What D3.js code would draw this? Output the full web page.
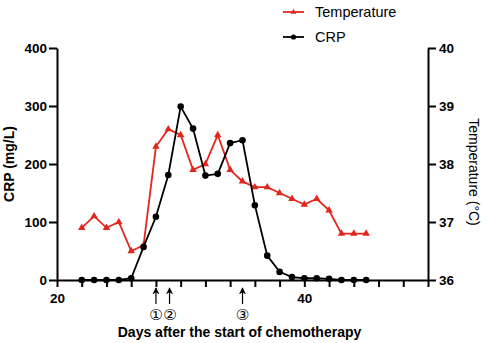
<!DOCTYPE html>
<html>
<head>
<meta charset="utf-8">
<script src="https://cdn.jsdelivr.net/npm/d3@7"></script>
<style>
  body { margin: 0; background: #fff; }
  svg { font-family: "Liberation Sans", Arial, sans-serif; }
  .axis path, .axis line { stroke: #000; stroke-width: 2; }
  .axis text { font-size: 13.5px; font-weight: bold; fill: #000; }
</style>
</head>
<body>
<div id="chart"></div>
<script>
// days after the start of chemotherapy
var days = [22, 23, 24, 25, 26, 27, 28, 29, 30, 31, 32, 33, 34, 35, 36, 37, 38, 39, 40, 41, 42, 43, 44, 45];
// CRP (mg/L)
var crp = [0, 0, 0, 0, 3, 57, 109, 181, 299, 261, 180, 183, 236, 241, 129, 42, 14, 5, 3, 3, 2, 0, 0, 0];
// temperature (°C)
var temperature = [36.9, 37.1, 36.9, 37.0, 36.5, 36.6, 38.3, 38.6, 38.5, 37.9, 38.0, 38.5, 37.9, 37.7, 37.6, 37.6, 37.5, 37.4, 37.3, 37.4, 37.2, 36.8, 36.8, 36.8];
var xTicks = [20, 22, 24, 26, 28, 30, 32, 34, 36, 38, 40, 42, 44, 46, 48, 50];
var xLabels = [20, 40];
var crpTicks = [0, 100, 200, 300, 400];
var tempTicks = [36, 37, 38, 39, 40];
var arrowDays = [28, 29.1, 35];
var arrowLabels = ["\u2460", "\u2461", "\u2462"];

var W = 486, H = 343;
var margin = { top: 48, right: 58, bottom: 63, left: 57 };
var width = W - margin.left - margin.right,
    height = H - margin.top - margin.bottom;
var red = "#e3261c";

var svg = d3.select("#chart").append("svg").attr("width", W).attr("height", H);
var g = svg.append("g").attr("transform", "translate(" + margin.left + "," + margin.top + ")");

var x = d3.scaleLinear().domain([20, 50]).range([0, width]);
var y0 = d3.scaleLinear().domain([0, 400]).range([height, 0]);
var y1 = d3.scaleLinear().domain([36, 40]).range([height, 0]);

// x axis, labels only at 20 and 40
var xAxis = g.append("g").attr("class", "axis").attr("transform", "translate(0," + height + ")")
  .call(d3.axisBottom(x).tickValues(xTicks).tickSize(7).tickSizeOuter(0)
    .tickFormat(function (d) { return xLabels.indexOf(d) >= 0 ? d : ""; }));
xAxis.selectAll("text").attr("dy", "0.95em");

var yAxisL = g.append("g").attr("class", "axis")
  .call(d3.axisLeft(y0).tickValues(crpTicks).tickSize(8).tickSizeOuter(0));
yAxisL.selectAll("text").attr("x", -10);

var yAxisR = g.append("g").attr("class", "axis").attr("transform", "translate(" + width + ",0)")
  .call(d3.axisRight(y1).tickValues(tempTicks).tickSize(8).tickSizeOuter(0).tickFormat(d3.format("d")));
yAxisR.selectAll("text").attr("x", 11);

var tempData = days.map(function (d, i) { return { day: d, v: temperature[i] }; });
var crpData = days.map(function (d, i) { return { day: d, v: crp[i] }; });

var tempLine = d3.line().x(function (d) { return x(d.day); }).y(function (d) { return y1(d.v); });
var crpLine = d3.line().x(function (d) { return x(d.day); }).y(function (d) { return y0(d.v); });

var tri = d3.symbol().type(d3.symbolTriangle).size(24);

g.append("path").datum(tempData).attr("d", tempLine)
  .attr("fill", "none").attr("stroke", red).attr("stroke-width", 1.8);
g.selectAll(".tri").data(tempData).enter().append("path")
  .attr("d", tri)
  .attr("transform", function (d) { return "translate(" + x(d.day) + "," + y1(d.v) + ")"; })
  .attr("fill", red);

g.append("path").datum(crpData).attr("d", crpLine)
  .attr("fill", "none").attr("stroke", "#000").attr("stroke-width", 1.8);
g.selectAll(".dot").data(crpData).enter().append("circle")
  .attr("cx", function (d) { return x(d.day); })
  .attr("cy", function (d) { return y0(d.v); })
  .attr("r", 3.3).attr("fill", "#000");

// arrows under the axis
svg.append("defs").append("marker").attr("id", "ah")
  .attr("viewBox", "0 0 10 10").attr("refX", 9).attr("refY", 5)
  .attr("markerWidth", 6).attr("markerHeight", 6).attr("orient", "auto")
  .append("path").attr("d", "M0,0 L10,5 L0,10 L3,5 Z").attr("fill", "#000");

arrowDays.forEach(function (d, i) {
  var ax = x(d);
  g.append("line").attr("x1", ax).attr("x2", ax)
    .attr("y1", height + 24).attr("y2", height + 8)
    .attr("stroke", "#000").attr("stroke-width", 1.2).attr("marker-end", "url(#ah)");
  g.append("text").attr("x", ax + (i == 1 ? 0.5 : 0)).attr("y", height + 40)
    .attr("text-anchor", "middle").style("font-size", "15px")
    .style("font-family", "'DejaVu Sans', sans-serif").text(arrowLabels[i]);
});

// axis titles
svg.append("text").attr("x", margin.left + width / 2 - 3).attr("y", 337)
  .attr("text-anchor", "middle").style("font-size", "14px").style("font-weight", "bold")
  .text("Days after the start of chemotherapy");
svg.append("text").attr("transform", "translate(14," + (margin.top + height / 2) + ") rotate(-90)")
  .attr("text-anchor", "middle").style("font-size", "14px").style("font-weight", "bold")
  .text("CRP (mg/L)");
svg.append("text").attr("transform", "translate(469," + (margin.top + height / 2 + 8) + ") rotate(90)")
  .attr("text-anchor", "middle").style("font-size", "14px")
  .text("Temperature (\u00b0C)");

// legend
var legend = svg.append("g").attr("transform", "translate(283,0)");
var items = [{ name: "Temperature", color: red, sym: "tri" }, { name: "CRP", color: "#000", sym: "dot" }];
items.forEach(function (it, i) {
  var ly = 12 + i * 25;
  legend.append("line").attr("x1", 0).attr("x2", 21).attr("y1", ly).attr("y2", ly)
    .attr("stroke", it.color).attr("stroke-width", 1.8);
  if (it.sym == "tri") {
    legend.append("path").attr("d", d3.symbol().type(d3.symbolTriangle).size(14))
      .attr("transform", "translate(10.5," + ly + ")").attr("fill", it.color);
  } else {
    legend.append("circle").attr("cx", 10.5).attr("cy", ly).attr("r", 2.6).attr("fill", it.color);
  }
  legend.append("text").attr("x", 32).attr("y", ly + 5).style("font-size", "14.5px").text(it.name);
});
</script>
</body>
</html>
